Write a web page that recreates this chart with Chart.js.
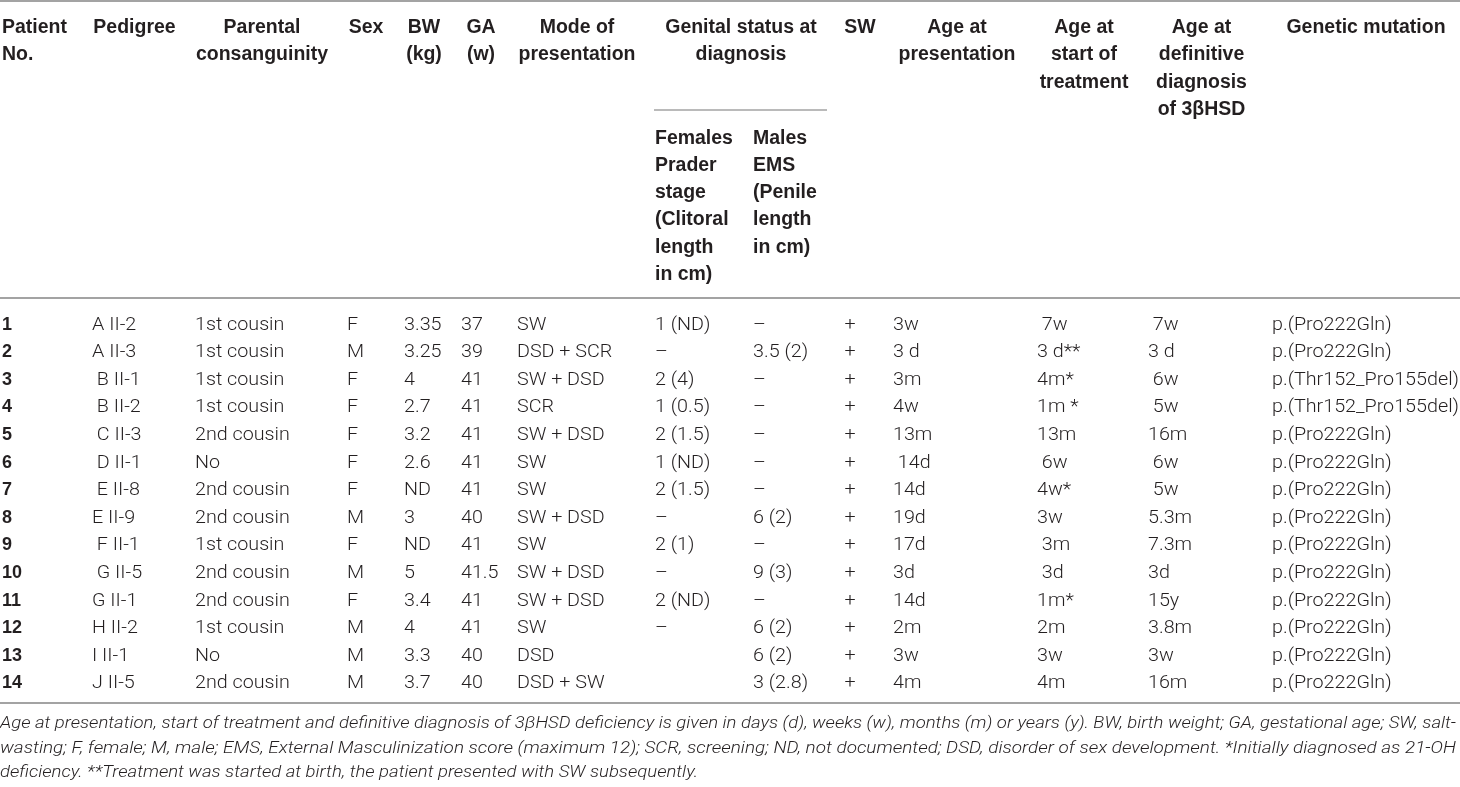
<!DOCTYPE html>
<html>
<head>
<meta charset="utf-8">
<script src="https://cdn.jsdelivr.net/npm/chart.js@4"></script>
<style>
  html, body { margin: 0; padding: 0; background: #ffffff; }
  #wrap { width: 1460px; height: 787px; position: relative; }
</style>
</head>
<body>
<div id="wrap"><canvas id="c"></canvas></div>
<script>
// ---------------- DATA ----------------
const patientNo = ['1','2','3','4','5','6','7','8','9','10','11','12','13','14'];
const pedigree = ['A II-2','A II-3',' B II-1',' B II-2',' C II-3',' D II-1',' E II-8','E II-9',' F II-1',' G II-5','G II-1','H II-2','I II-1','J II-5'];
const consanguinity = ['1st cousin','1st cousin','1st cousin','1st cousin','2nd cousin','No','2nd cousin','2nd cousin','1st cousin','2nd cousin','2nd cousin','1st cousin','No','2nd cousin'];
const sex = ['F','M','F','F','F','F','F','M','F','M','F','M','M','M'];
const birthWeight = ['3.35','3.25','4','2.7','3.2','2.6','ND','3','ND','5','3.4','4','3.3','3.7'];
const gestAge = ['37','39','41','41','41','41','41','40','41','41.5','41','41','40','40'];
const mode = ['SW','DSD + SCR','SW + DSD','SCR','SW + DSD','SW','SW','SW + DSD','SW','SW + DSD','SW + DSD','SW','DSD','DSD + SW'];
const femalesPrader = ['1 (ND)','\u2013','2 (4)','1 (0.5)','2 (1.5)','1 (ND)','2 (1.5)','\u2013','2 (1)','\u2013','2 (ND)','\u2013','',''];
const malesEMS = ['\u2013','3.5 (2)','\u2013','\u2013','\u2013','\u2013','\u2013','6 (2)','\u2013','9 (3)','\u2013','6 (2)','6 (2)','3 (2.8)'];
const saltWasting = ['+','+','+','+','+','+','+','+','+','+','+','+','+','+'];
const agePresentation = ['3w','3 d','3m','4w','13m',' 14d','14d','19d','17d','3d','14d','2m','3w','4m'];
const ageTreatment = [' 7w','3 d**','4m*','1m *','13m',' 6w','4w*','3w',' 3m',' 3d','1m*','2m','3w','4m'];
const ageDefinitive = [' 7w','3 d',' 6w',' 5w','16m',' 6w',' 5w','5.3m','7.3m','3d','15y','3.8m','3w','16m'];
const mutation = ['p.(Pro222Gln)','p.(Pro222Gln)','p.(Thr152_Pro155del)','p.(Thr152_Pro155del)','p.(Pro222Gln)','p.(Pro222Gln)','p.(Pro222Gln)','p.(Pro222Gln)','p.(Pro222Gln)','p.(Pro222Gln)','p.(Pro222Gln)','p.(Pro222Gln)','p.(Pro222Gln)','p.(Pro222Gln)'];

const headerLabels = [
  ['Patient','No.'], ['Pedigree'], ['Parental','consanguinity'], ['Sex'], ['BW','(kg)'], ['GA','(w)'],
  ['Mode of','presentation'], ['Genital status at','diagnosis'], ['SW'], ['Age at','presentation'],
  ['Age at','start of','treatment'], ['Age at','definitive','diagnosis','of 3\u03B2HSD'], ['Genetic mutation']
];
const subHeaderLabels = [
  ['Females','Prader','stage','(Clitoral','length','in cm)'],
  ['Males','EMS','(Penile','length','in cm)']
];
const footnoteLines = [
  'Age at presentation, start of treatment and definitive diagnosis of 3\u03B2HSD deficiency is given in days (d), weeks (w), months (m) or years (y). BW, birth weight; GA, gestational age; SW, salt-',
  'wasting; F, female; M, male; EMS, External Masculinization score (maximum 12); SCR, screening; ND, not documented; DSD, disorder of sex development. *Initially diagnosed as 21-OH',
  'deficiency. **Treatment was started at birth, the patient presented with SW subsequently.'
];

// ---------------- LAYOUT ----------------
const W = 1460, H = 787;
const columns = [
  {values: patientNo, x: 2, align: 'left', bold: true},
  {values: pedigree, x: 92, align: 'left'},
  {values: consanguinity, x: 195, align: 'left'},
  {values: sex, x: 347, align: 'left'},
  {values: birthWeight, x: 404, align: 'left'},
  {values: gestAge, x: 461, align: 'left'},
  {values: mode, x: 517, align: 'left'},
  {values: femalesPrader, x: 655, align: 'left'},
  {values: malesEMS, x: 753, align: 'left'},
  {values: saltWasting, x: 850, align: 'center'},
  {values: agePresentation, x: 893, align: 'left'},
  {values: ageTreatment, x: 1037, align: 'left'},
  {values: ageDefinitive, x: 1148, align: 'left'},
  {values: mutation, x: 1272, align: 'left'}
];
const headerPos = [
  {x: 2, align: 'left'}, {x: 134.5}, {x: 262}, {x: 366}, {x: 424}, {x: 481}, {x: 577}, {x: 741},
  {x: 860}, {x: 957}, {x: 1084}, {x: 1201.5}, {x: 1366}
];
const subHeaderPos = [{x: 655}, {x: 753}];
const HEADER_BASE = 33, SUB_BASE = 143.5, LINE_H = 27.3;
const ROW0 = 329.5, ROW_H = 27.6;       // baseline pixel of first row and row pitch
const RULES = [
  {y: 1, x0: 0, x1: W, w: 2},
  {y: 110, x0: 654, x1: 827, w: 1.5},
  {y: 298, x0: 0, x1: W, w: 2},
  {y: 703, x0: 0, x1: W, w: 2}
];
const FOOT_BASE = 728, FOOT_H = 24.5, FOOT_W = 1456;

const BODY_FONT = '300 18px Roboto, "Liberation Sans", Arial, sans-serif';
const BOLD_FONT = 'bold 18px "Liberation Sans", Arial, sans-serif';
const HEAD_FONT = 'bold 19.5px "Liberation Sans", Arial, sans-serif';
const FOOT_FONT = 'italic 300 16px Roboto, "Liberation Sans", Arial, sans-serif';
const TEXT_COLOR = '#231f20';
const RULE_COLOR = '#a3a3a3';

// y scale in "row units": row i sits at value i
const Y_MIN = -ROW0 / ROW_H;
const Y_MAX = Y_MIN + H / ROW_H;

const datasets = columns.map((c, ci) => ({
  label: 'col' + ci,
  data: c.values.map((v, i) => ({x: c.x, y: i})),
  texts: c.values,
  align: c.align,
  bold: !!c.bold,
  pointRadius: 0,
  showLine: false
}));

function drawScaled(ctx, text, x, y, sx, align) {
  ctx.save();
  ctx.translate(x, y);
  ctx.scale(sx, 1);
  ctx.textAlign = align;
  ctx.fillText(text, 0, 0);
  ctx.restore();
}

const tablePlugin = {
  id: 'tableText',
  afterDatasetsDraw(chart) {
    const ctx = chart.ctx;
    const xs = chart.scales.x;
    ctx.save();
    ctx.fillStyle = TEXT_COLOR;
    ctx.textBaseline = 'alphabetic';

    // horizontal-fit factors
    ctx.font = BODY_FONT;
    const sxBody = 187 / ctx.measureText('p.(Thr152_Pro155del)').width;
    ctx.font = HEAD_FONT;
    const sxHead = 132 / ctx.measureText('consanguinity').width;

    // rules
    ctx.strokeStyle = RULE_COLOR;
    RULES.forEach(r => {
      ctx.lineWidth = r.w;
      ctx.beginPath();
      ctx.moveTo(xs.getPixelForValue(r.x0), r.y);
      ctx.lineTo(xs.getPixelForValue(r.x1), r.y);
      ctx.stroke();
    });

    // headers
    ctx.font = HEAD_FONT;
    headerLabels.forEach((lines, hi) => {
      const p = headerPos[hi];
      lines.forEach((t, li) => {
        drawScaled(ctx, t, xs.getPixelForValue(p.x), HEADER_BASE + li * LINE_H, sxHead, p.align || 'center');
      });
    });
    subHeaderLabels.forEach((lines, si) => {
      const p = subHeaderPos[si];
      lines.forEach((t, li) => {
        drawScaled(ctx, t, xs.getPixelForValue(p.x), SUB_BASE + li * LINE_H, sxHead, 'left');
      });
    });

    // body cells, positioned by the dataset points
    chart.data.datasets.forEach((ds, di) => {
      const meta = chart.getDatasetMeta(di);
      ctx.font = ds.bold ? BOLD_FONT : BODY_FONT;
      meta.data.forEach((el, i) => {
        const t = ds.texts[i];
        if (!t) return;
        drawScaled(ctx, t, el.x, el.y, ds.bold ? 1 : sxBody, ds.align);
      });
    });

    // footnote
    ctx.font = FOOT_FONT;
    const w0 = ctx.measureText(footnoteLines[0]).width;
    const w1 = ctx.measureText(footnoteLines[1]).width;
    const s0 = FOOT_W / w0, s1 = FOOT_W / w1;
    footnoteLines.forEach((t, li) => {
      const s = li === 0 ? s0 : (li === 1 ? s1 : s0);
      drawScaled(ctx, t, 0, FOOT_BASE + li * FOOT_H, s, 'left');
    });
    ctx.restore();
  }
};

new Chart(document.getElementById('c'), {
  type: 'scatter',
  data: { datasets },
  options: {
    responsive: true,
    maintainAspectRatio: false,
    animation: false,
    layout: { padding: 0 },
    plugins: { legend: { display: false }, tooltip: { enabled: false } },
    events: [],
    scales: {
      x: { type: 'linear', min: 0, max: W, display: false },
      y: { type: 'linear', min: Y_MIN, max: Y_MAX, reverse: true, display: false }
    }
  },
  plugins: [tablePlugin]
});
</script>
</body>
</html>
